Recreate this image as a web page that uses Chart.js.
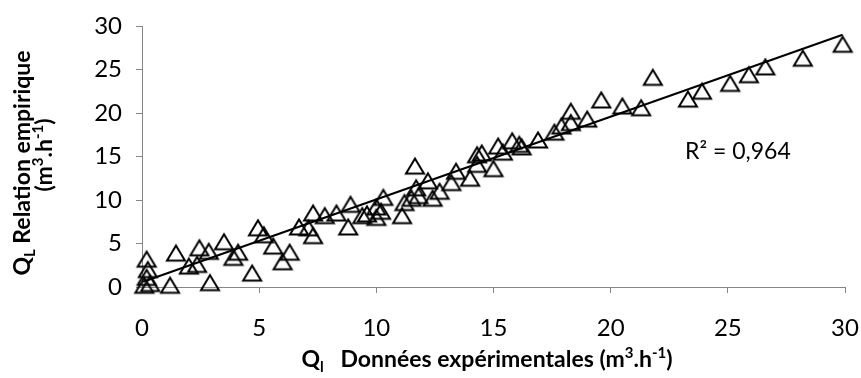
<!DOCTYPE html>
<html>
<head>
<meta charset="utf-8">
<script src="https://cdn.jsdelivr.net/npm/chart.js@4/dist/chart.umd.min.js"></script>
<style>
  html, body { margin: 0; padding: 0; background: #fff; }
  #wrap { width: 861px; height: 378px; }
</style>
</head>
<body>
<div id="wrap"><canvas id="c" width="861" height="378"></canvas></div>
<script>
// Experimental flow rate Q_l (m3/h)
const expQ = [
  0.1, 0.35, 0.2, 0.25, 0.2, 1.2, 1.45, 2.0, 2.35, 2.45,
  2.85, 2.9, 3.5, 3.9, 4.1, 4.7, 4.95, 5.2, 5.6, 6.0,
  6.3, 6.7, 7.1, 7.3, 7.3, 7.8, 8.3, 8.8, 8.9, 9.4,
  9.6, 10.0, 10.3, 10.0, 10.2, 11.1, 11.2, 11.5, 11.7, 11.8,
  11.65, 12.2, 12.4, 12.7, 13.2, 13.4, 14.0, 14.3, 14.3, 14.5,
  15.0, 15.2, 15.4, 15.8, 16.1, 16.2, 16.9, 17.6, 17.9, 18.3,
  18.3, 19.0, 19.6, 20.5, 21.3, 21.8, 23.3, 23.9, 25.1, 25.9,
  26.6, 28.2, 29.9
];
// Flow rate from the empirical relation Q_L (m3/h)
const empQ = [
  0.2, 0.4, 1.1, 2.0, 3.2, 0.2, 3.9, 2.4, 2.6, 4.5,
  4.1, 0.5, 5.2, 3.4, 4.0, 1.6, 6.8, 6.0, 4.7, 2.9,
  4.0, 6.9, 6.8, 5.9, 8.5, 8.2, 8.5, 6.9, 9.5, 8.2,
  8.4, 8.0, 10.3, 9.2, 8.7, 8.2, 9.7, 10.2, 11.4, 10.5,
  13.9, 12.2, 10.2, 11.0, 12.0, 13.3, 12.5, 14.1, 15.2, 15.4,
  13.6, 16.2, 15.5, 16.8, 16.4, 16.1, 16.9, 17.8, 18.5, 18.9,
  20.2, 19.3, 21.5, 20.8, 20.6, 24.1, 21.6, 22.5, 23.4, 24.4,
  25.3, 26.3, 27.9
];
// Linear trend line end points
const trendX = [0.05, 29.9];
const trendY = [0.6, 29.0];
const axisMin = 0;
const axisMax = 30;
const axisStep = 5;
const rSquaredLabel = 'R² = 0,964';

const FONT = 'Lato, "Open Sans", sans-serif';

// Hollow triangle marker, centred on its bounding box
function triangleMarker() {
  const c = document.createElement('canvas');
  c.width = 24; c.height = 22;
  const g = c.getContext('2d');
  g.strokeStyle = '#000';
  g.lineWidth = 2;
  g.lineJoin = 'miter';
  g.beginPath();
  g.moveTo(12, 3.5);
  g.lineTo(21, 18.5);
  g.lineTo(3, 18.5);
  g.closePath();
  g.stroke();
  return c;
}

// Draw a run of text pieces (normal / sub / superscript) centred on x, baseline y
function drawRich(ctx, parts, x, y) {
  const widths = parts.map(p => {
    ctx.font = (p.bold ? 'bold ' : '') + p.size + 'px ' + FONT;
    return ctx.measureText(p.t).width;
  });
  const total = widths.reduce((a, b) => a + b, 0);
  let cur = x - total / 2;
  ctx.textAlign = 'left';
  ctx.textBaseline = 'alphabetic';
  parts.forEach((p, i) => {
    ctx.font = (p.bold ? 'bold ' : '') + p.size + 'px ' + FONT;
    ctx.fillText(p.t, cur, y + (p.dy || 0));
    cur += widths[i];
  });
}

const labelsPlugin = {
  id: 'axisTitles',
  afterDraw(chart) {
    const ctx = chart.ctx;
    ctx.save();
    ctx.fillStyle = '#000';
    const B = 23, S = 15;
    // x axis title
    drawRich(ctx, [
      { t: 'Q', size: B, bold: true },
      { t: 'l', size: S, bold: true, dy: 5 },
      { t: '   Données expérimentales (m', size: B, bold: true },
      { t: '3', size: S, bold: true, dy: -9 },
      { t: '.h', size: B, bold: true },
      { t: '-1', size: S, bold: true, dy: -9 },
      { t: ')', size: B, bold: true }
    ], 487, 367);
    // y axis title, two lines
    ctx.save();
    ctx.translate(30, 163);
    ctx.rotate(-Math.PI / 2);
    drawRich(ctx, [
      { t: 'Q', size: B, bold: true },
      { t: 'L', size: S, bold: true, dy: 5 },
      { t: ' Relation empirique', size: B, bold: true }
    ], 0, 0);
    ctx.restore();
    ctx.save();
    ctx.translate(52, 155);
    ctx.rotate(-Math.PI / 2);
    drawRich(ctx, [
      { t: '(m', size: B, bold: true },
      { t: '3', size: S, bold: true, dy: -9 },
      { t: '.h', size: B, bold: true },
      { t: '-1', size: S, bold: true, dy: -9 },
      { t: ')', size: B, bold: true }
    ], 0, 0);
    ctx.restore();
    // coefficient of determination
    ctx.font = '23px ' + FONT;
    ctx.textAlign = 'left';
    ctx.textBaseline = 'alphabetic';
    ctx.fillText(rSquaredLabel, 685, 159);
    ctx.restore();
  }
};

function axis(extra) {
  return Object.assign({
    type: 'linear',
    min: axisMin,
    max: axisMax,
    grid: { drawOnChartArea: false, drawTicks: true, tickLength: 6, color: '#868686' },
    border: { display: true, color: '#868686', width: 1 }
  }, extra);
}

function build() {
  const points = expQ.map((x, i) => ({ x: x, y: empQ[i] }));
  const trend = trendX.map((x, i) => ({ x: x, y: trendY[i] }));
  new Chart(document.getElementById('c'), {
    type: 'scatter',
    data: {
      datasets: [
        {
          data: points,
          pointStyle: triangleMarker(),
          pointRadius: 10,
          clip: false
        },
        {
          type: 'line',
          data: trend,
          borderColor: '#000',
          borderWidth: 2,
          pointRadius: 0,
          fill: false,
          showLine: true,
          clip: false
        }
      ]
    },
    options: {
      responsive: false,
      animation: false,
      events: [],
      layout: { padding: { left: 0, right: 16, top: 26, bottom: 0 } },
      plugins: { legend: { display: false }, tooltip: { enabled: false } },
      scales: {
        x: axis({
          ticks: { stepSize: axisStep, color: '#000', font: { family: FONT, size: 24 }, padding: 21, maxRotation: 0 },
          afterFit(s) { s.height = 91; s.paddingLeft = 0; s.paddingRight = 0; }
        }),
        y: axis({
          ticks: { stepSize: axisStep, color: '#000', font: { family: FONT, size: 24 }, padding: 14 },
          afterFit(s) { s.width = 142; s.paddingTop = 0; s.paddingBottom = 0; }
        })
      }
    },
    plugins: [labelsPlugin]
  });
}

Promise.all([
  document.fonts.load('24px Lato'),
  document.fonts.load('bold 23px Lato')
]).then(build, build);
</script>
</body>
</html>
